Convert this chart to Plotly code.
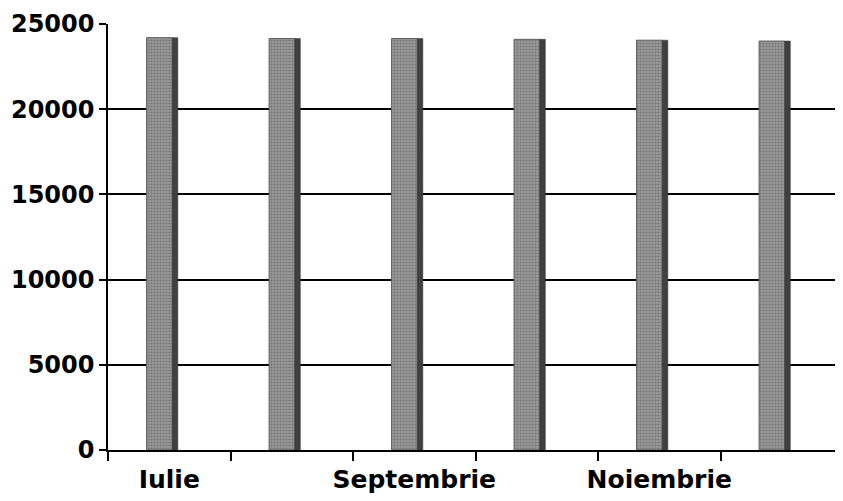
import plotly.graph_objects as go

months = ["Iulie", "August", "Septembrie", "Octombrie", "Noiembrie", "Decembrie"]
tick_labels = ["Iulie", "", "Septembrie", "", "Noiembrie", ""]
values = [24200, 24150, 24150, 24100, 24050, 24000]
y_ticks = [0, 5000, 10000, 15000, 20000, 25000]
y_tick_text = ["0", "5000", "10000", "15000", "20000", "25000"]

FONT = "DejaVu Sans, Liberation Sans, Arial, sans-serif"

fig = go.Figure()
# front face
fig.add_trace(go.Bar(
    x=months, y=values, width=0.21, offset=-0.185,
    marker=dict(color="#858585", line=dict(color="#5e5e5e", width=1),
                pattern=dict(shape=".", fgcolor="#4e4e4e", bgcolor="#9a9a9a", size=3, solidity=0.4)),
    showlegend=False, hoverinfo="y",
))
# side face
fig.add_trace(go.Bar(
    x=months, y=values, width=0.045, offset=0.025,
    marker=dict(color="#404040", line=dict(color="#333333", width=0.5)),
    showlegend=False, hoverinfo="skip",
))

fig.update_layout(
    width=835, height=493,
    margin=dict(l=100, r=0, t=16, b=51),
    paper_bgcolor="white", plot_bgcolor="white",
    barmode="overlay",
    font=dict(family=FONT, size=24, color="black"),
    xaxis=dict(
        type="category", categoryorder="array", categoryarray=months,
        tickmode="array", tickvals=months, ticktext=tick_labels,
        tickson="boundaries", ticks="outside", ticklen=9, tickwidth=1.5, tickcolor="black",
        tickangle=0, automargin=False, ticklabelstandoff=6,
        showgrid=False, showline=True, linecolor="black", linewidth=2,
        tickfont=dict(size=25, family=FONT, weight="bold"),
        range=[-0.5, 5.5],
    ),
    yaxis=dict(
        range=[0, 25000], tickmode="array", tickvals=y_ticks, ticktext=y_tick_text,
        ticks="outside", ticklen=7, tickwidth=1.5, tickcolor="black",
        automargin=False,
        showgrid=True, gridcolor="black", gridwidth=1.8,
        showline=True, linecolor="black", linewidth=1.5,
        zeroline=False,
        tickfont=dict(size=24, family=FONT, weight="bold"),
    ),
)

fig.write_html("out.html")
